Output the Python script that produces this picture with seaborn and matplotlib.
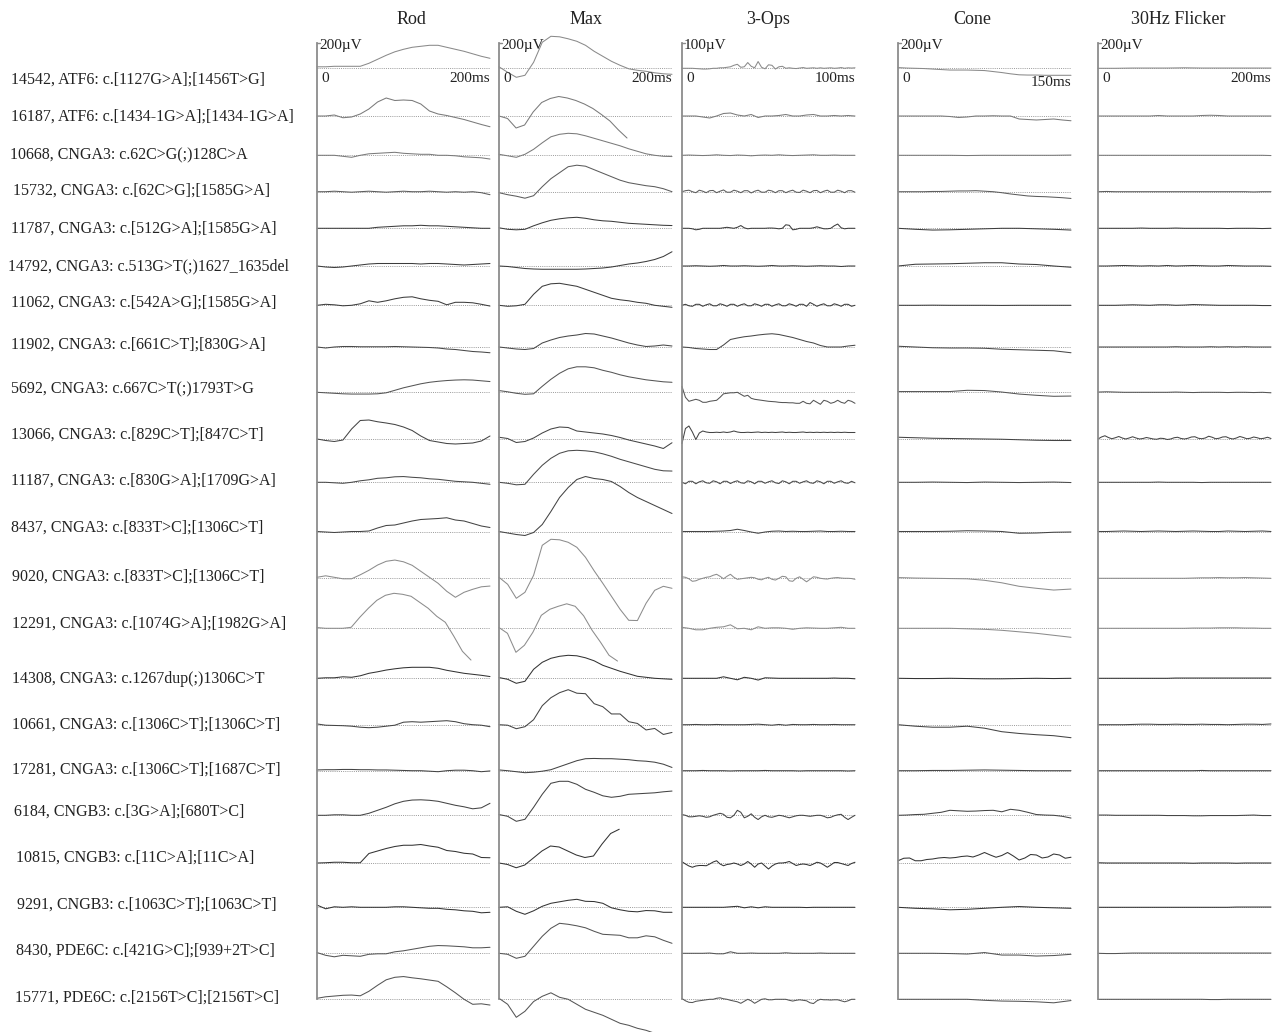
import matplotlib
matplotlib.use("Agg")
import matplotlib.pyplot as plt
import numpy as np
import pandas as pd
import seaborn as sns

# ---------------- data ----------------
patients = [
    "14542, ATF6: c.[1127G>A];[1456T>G]",
    "16187, ATF6: c.[1434-1G>A];[1434-1G>A]",
    "10668, CNGA3: c.62C>G(;)128C>A",
    "15732, CNGA3: c.[62C>G];[1585G>A]",
    "11787, CNGA3: c.[512G>A];[1585G>A]",
    "14792, CNGA3: c.513G>T(;)1627_1635del",
    "11062, CNGA3: c.[542A>G];[1585G>A]",
    "11902, CNGA3: c.[661C>T];[830G>A]",
    "5692, CNGA3: c.667C>T(;)1793T>G",
    "13066, CNGA3: c.[829C>T];[847C>T]",
    "11187, CNGA3: c.[830G>A];[1709G>A]",
    "8437, CNGA3: c.[833T>C];[1306C>T]",
    "9020, CNGA3: c.[833T>C];[1306C>T]",
    "12291, CNGA3: c.[1074G>A];[1982G>A]",
    "14308, CNGA3: c.1267dup(;)1306C>T",
    "10661, CNGA3: c.[1306C>T];[1306C>T]",
    "17281, CNGA3: c.[1306C>T];[1687C>T]",
    "6184, CNGB3: c.[3G>A];[680T>C]",
    "10815, CNGB3: c.[11C>A];[11C>A]",
    "9291, CNGB3: c.[1063C>T];[1063C>T]",
    "8430, PDE6C: c.[421G>C];[939+2T>C]",
    "15771, PDE6C: c.[2156T>C];[2156T>C]",
]
columns = ["Rod", "Max", "3-Ops", "Cone", "30Hz Flicker"]
sweep_ms = [200, 200, 100, 150, 200]
scale_uv = [200, 200, 100, 200, 200]
scale_labels = ["200\u00b5V", "200\u00b5V", "100\u00b5V", "200\u00b5V", "200\u00b5V"]
time_labels = ["200ms", "200ms", "100ms", "150ms", "200ms"]

# Rod responses (uV), sampled evenly over each trace's duration
rod_uv = [
    [12,12,16,16,16,16,40,72,104,132,152,168,176,184,184,168,152,136,116,96,80],
    [0,0,8,-14,-8,16,56,112,144,124,128,124,96,40,16,4,-12,-28,-48,-68,-86],
    [0,0,0,-8,-16,0,12,16,20,24,16,12,8,8,0,0,-4,-12,-16,-20,-30],
    [0,0,4,0,-4,0,4,0,-4,0,4,0,0,4,0,-4,0,-4,0,-8,-24],
    [0,0,0,0,0,0,0,8,12,16,20,20,24,20,20,16,12,8,4,0,0],
    [0,-8,-12,-8,0,8,16,20,20,20,20,20,16,20,20,16,12,8,12,16,20],
    [0,8,4,-4,0,12,36,24,36,52,64,68,52,40,32,4,24,24,20,8,-6],
    [0,-8,0,4,4,2,2,2,2,4,2,0,-2,-4,-8,-16,-20,-28,-36,-40,-46],
    [0,-4,-8,-12,-14,-14,-14,-12,-4,16,36,52,68,80,88,94,98,100,98,92,86],
    [0,-12,-20,-8,80,148,152,138,128,116,96,68,24,-12,-24,-36,-40,-36,-32,-16,24],
    [0,0,-4,-8,0,12,20,32,36,44,46,40,36,28,24,16,8,4,0,-8,-16],
    [0,-4,-8,-4,0,0,4,28,48,52,68,84,96,100,104,110,92,84,64,44,32],
    [8,20,8,-4,-4,28,64,106,136,146,132,104,56,8,-40,-104,-152,-112,-88,-68,-62],
    [6,0,0,0,8,88,160,224,264,280,272,256,208,160,96,48,-64,-184,-254],
    [0,4,4,12,8,20,40,52,66,76,84,88,88,88,80,64,52,40,32,24,14],
    [6,-4,-6,-8,-12,-20,-24,-20,-12,-4,20,24,20,24,28,32,24,8,0,-4,-16],
    [6,8,8,10,10,8,8,6,6,4,2,0,0,-4,-8,0,4,4,0,-8,-2],
    [0,0,4,4,0,0,16,40,64,92,112,122,124,120,112,96,80,68,52,60,96],
    [0,2,6,6,2,2,76,96,116,132,142,142,148,136,126,100,92,78,72,44,42],
    [18,-12,4,0,4,0,0,0,0,4,4,0,-4,-8,-8,-16,-20,-28,-32,-44,-40],
    [6,-16,-28,-16,-20,-24,-8,-4,-4,12,20,32,44,56,62,60,56,52,44,44,48],
    [8,20,26,32,34,28,64,112,156,176,182,172,164,154,144,100,52,0,-40,-36,-46],
]
rod_end_ms = [200]*13 + [178] + [200]*8

max_uv = [
    [12,-32,-72,-56,48,208,256,252,236,216,184,136,96,56,24,-4,-16,-24,-36,-44,-48],
    [0,-20,-96,-72,32,108,140,156,144,124,96,60,12,-40,-112,-176],
    [8,-4,-16,8,48,100,148,168,176,172,156,136,116,96,76,52,32,12,0,-8,-10],
    [-8,-24,-36,-52,-32,40,104,152,200,212,204,176,148,120,92,72,60,48,40,24,0],
    [4,-8,-12,-8,20,44,64,76,84,88,80,68,60,56,48,40,36,32,28,24,22],
    [0,-4,-12,-20,-24,-26,-26,-26,-26,-26,-24,-20,-16,-8,4,16,24,36,52,76,114],
    [0,-8,-4,8,88,152,172,176,164,152,128,104,80,56,44,36,24,16,0,-8,-16],
    [0,-8,-16,-20,-12,32,56,76,88,96,108,104,88,72,52,32,16,4,8,16,8],
    [14,4,-8,-16,-12,48,104,152,188,204,204,196,176,160,140,124,112,100,92,84,80],
    [14,4,-28,-20,8,48,80,96,92,64,56,48,40,28,12,-8,-24,-40,-56,-76,-30],
    [0,-8,-20,-16,64,136,192,232,252,256,252,244,228,208,184,164,144,124,104,92,90],
    [0,-12,-24,-32,-8,56,160,272,352,416,440,424,416,400,360,312,272,240,208,176,144],
    [8,-48,-160,-112,24,264,312,308,288,248,168,60,-40,-144,-248,-336,-338,-200,-96,-64,-80],
    [6,-40,-192,-136,-32,104,152,176,196,176,100,-16,-112,-216,-262],
    [6,-8,-40,-24,72,128,160,176,184,180,164,140,104,80,56,36,16,8,0,-4,-8],
    [0,-4,-32,-16,40,152,216,256,280,252,248,168,144,86,86,24,10,-42,-30,-78,-62],
    [6,0,-8,-16,-12,-4,8,32,56,80,96,98,96,96,92,88,80,76,68,52,26],
    [6,-8,-48,-32,64,168,256,272,272,248,208,184,156,144,152,168,172,176,180,188,194],
    [0,-12,-38,-16,40,96,136,128,96,64,44,56,152,236,270],
    [0,4,-32,-56,-28,8,32,44,56,64,48,46,32,-4,-20,-32,-36,-26,-28,-40,-40],
    [0,-8,-40,-24,56,136,200,240,232,220,204,176,152,148,144,124,124,140,132,104,80],
    [8,-40,-144,-96,-18,24,52,16,0,-40,-80,-104,-128,-160,-192,-208,-232,-248,-272],
]
max_end_ms = [200, 148] + [200]*10 + [200, 137] + [200]*4 + [139, 200, 200, 180]

ops_uv = [
    [0,0,0,0,-1,-2,-3,-3,-2,0,0,2,2,4,6,12,16,4,6,23,8,2,27,4,-2,14,12,-3,6,8,0,2,0,-1,1,3,0,1,2,0,2,0,1,2,0,1,3,0,2,1,2],
    [0,0,0,-4,-8,0,10,12,4,0,6,-6,0,0,2,6,0,0,4,6,0,0,2,0,2,0],
    [0,1,0,-1,0,2,0,-1,1,0,-2,0,1,0,2,0,-1,0,1,2,0,0,1,0,0,0],
    [0,4,6,0,-4,6,2,-4,4,5,-4,2,7,-2,-2,6,2,-4,4,4,-5,2,6,-2,-2,6,3,-4,4,4,-4,2,6,-2,-3,6,2,-4,4,5,-4,2,6,-2,-2,6,2,-4,4,4,-2],
    [0,0,0,-2,-6,-4,0,0,0,0,0,0,2,4,2,0,4,11,2,-2,0,0,0,0,0,1,1,0,-2,0,14,12,-6,-4,0,0,0,0,2,6,2,-2,-2,0,10,17,2,-2,0,0,0],
    [0,0,1,0,-1,0,2,0,0,1,0,-1,0,2,0,0,1,0,-1,0,1,0,0,-2,0,0],
    [0,4,-2,-4,4,4,-4,2,6,-2,-2,6,2,-4,4,4,-4,2,6,-2,-2,6,2,-4,4,4,-4,2,6,-2,-2,6,2,-4,4,4,-4,11,4,-4,2,6,-2,-2,6,2,-4,4,4,-4,0],
    [0,-2,-6,-8,-10,-10,8,30,36,41,44,48,51,53,50,44,38,30,22,16,6,0,0,0,4,7],
    [23,-20,-36,-32,-28,-32,-40,-40,-36,-34,-32,-20,-6,-4,-2,-2,0,-8,-16,-12,-24,-28,-30,-32,-34,-36,-37,-38,-40,-41,-41,-42,-42,-44,-44,-36,-44,-46,-32,-40,-48,-32,-36,-44,-40,-32,-40,-44,-32,-36,-44],
    [-18,42,52,28,-2,24,32,28,26,26,27,26,28,26,28,32,28,26,26,27,26,27,28,26,27,26,27,26,27,28,26,27,26,26,27,28,26,27,26,27,26,27,26,27,26,27,26,27,26,26,26],
    [0,-6,4,4,-6,2,6,-2,-4,6,2,-6,4,4,-5,2,6,-2,-4,6,2,-6,4,4,-4,2,6,-2,-5,6,2,-6,4,4,-4,2,6,-2,-4,6,2,-6,4,4,-4,2,6,-2,-4,4,-2],
    [0,0,0,0,0,1,2,4,9,4,-2,-7,-2,1,2,0,1,0,0,1,2,0,0,1,0,0],
    [6,4,-2,-12,-10,-4,0,4,6,12,16,8,-2,8,16,4,-4,-2,0,2,4,2,-4,-6,0,4,-4,-7,0,8,6,-10,-12,0,6,-4,-14,-4,6,4,0,-2,-3,0,2,3,1,0,0,-1,-4],
    [4,0,-6,-6,0,4,6,14,-2,0,-6,6,0,2,2,0,-4,0,2,1,0,0,2,4,0,0],
    [0,0,0,0,0,0,6,0,-6,4,0,-7,2,1,0,0,0,0,0,0,0,0,1,0,0,-2],
    [0,0,1,0,0,1,0,0,0,0,1,2,0,-2,1,-2,1,0,0,1,0,0,1,0,0,0],
    [0,0,0,1,0,0,0,-1,0,0,0,0,1,0,0,0,0,-1,0,0,0,0,0,0,-1,0],
    [3,0,-6,-6,-4,-2,-4,-8,-6,0,4,8,4,-8,-10,0,20,12,-10,-4,6,-8,-17,-6,0,-6,-8,-4,0,-2,-6,-10,-6,-2,0,0,-2,-4,-2,0,0,-4,-10,-8,-2,2,4,-8,-17,-8,0],
    [5,-4,-12,-17,-12,-10,-10,-11,-4,4,9,-4,-11,-6,-4,0,-4,-10,-4,6,-4,-17,-4,0,-12,-24,-12,-4,0,0,2,6,-2,-10,-6,-4,-6,-10,-4,3,0,-8,-17,-8,2,2,-2,-6,-10,-2,3],
    [0,0,0,0,0,0,0,2,4,-2,2,-2,2,0,0,0,0,0,-1,0,0,0,0,0,0,0],
    [0,0,0,0,1,-2,-2,6,0,0,1,0,0,0,0,2,0,0,0,0,1,0,0,0,0,0],
    [3,-6,-12,-13,-8,-6,-4,-2,0,0,4,6,2,0,-4,-7,-10,-16,-8,0,-6,-16,-8,0,2,-2,-2,0,0,0,0,-4,-7,-4,-2,-4,-6,-14,-17,-6,0,-2,-2,-3,-2,-2,-6,-10,-6,0,0],
]

cone_uv = [
    [6,2,0,-2,-6,-10,-14,-14,-14,-16,-18,-26,-34,-44,-52,-54,-54,-56,-56,-56,-56],
    [0,0,0,0,0,0,-4,-12,-8,0,0,2,0,0,-24,-28,-32,-28,-24,-32,-38],
    [0,0,0,0,-2,0,0,0,0,0,2],
    [0,0,0,0,2,2,4,6,6,8,4,0,-8,-18,-26,-34,-38,-40,-44,-48,-54],
    [0,-8,-14,-12,-8,-4,0,0,-4,-8,-14],
    [0,14,16,18,22,26,26,16,12,0,-10],
    [0,0,1,0,0,0,-1,0,0,0,0],
    [6,0,-6,-8,-8,-10,-18,-22,-26,-30,-46],
    [6,6,6,6,16,14,2,-14,-24,-32,-30],
    [14,10,6,4,2,0,-2,-6,-10,-12,-12],
    [0,0,2,0,-2,2,0,-2,0,2,-2],
    [0,0,0,2,6,4,0,-14,-12,-6,-4],
    [6,2,0,-2,-4,-16,-36,-64,-80,-94,-86],
    [0,0,0,0,-4,-8,-16,-28,-40,-56,-72],
    [0,-2,-2,0,-2,-4,-4,-2,0,-2,0],
    [0,-12,-20,-20,-12,-28,-56,-70,-80,-88,-104],
    [0,0,2,2,4,6,4,2,0,0,0],
    [0,2,6,8,16,24,40,36,32,34,38,40,28,48,40,24,6,2,0,-8,-22],
    [18,38,40,18,18,28,32,40,44,40,44,52,56,48,64,84,64,46,60,84,56,24,40,68,64,40,48,72,64,38,46],
    [0,-8,-12,-20,-16,-8,0,6,0,-4,-8],
    [0,0,0,-2,-6,6,-14,-14,-22,-18,-8],
    [0,0,0,0,0,-8,-14,-16,-20,-28,-10],
]

flicker_uv = [
    [0,0,2,2,2,4,2,2,2,2,2],
    [0,0,0,0,0,0,0,4,0,0,0,0,4,6,4,0,0,0,0,0,0],
    [0,0,0,0,0,0,0,0,0,0,0,0,0,0,0,0,0,0,0,0,-2],
    [0,2,0,0,0,0,0,0,0,0,0,0,0,0,0,0,0,0,-2,0,0],
    [0,0,0,0,0,2,0,0,0,2,0,0,0,0,0,-2,0,0,0,-2,0],
    [0,0,2,4,2,0,2,0,4,0,2,4,2,0,0,4,2,0,0,0,-2],
    [0,0,0,2,4,2,0,4,4,0,2,6,4,2,0,0,0,0,0,-2,-2],
    [0,0,0,0,0,0,0,0,0,2,0,0,0,2,0,2,0,2,0,0,0],
    [2,4,2,0,0,0,0,0,0,2,0,-2,0,0,0,-2,0,0,-2,0,-4],
    [0,16,26,12,2,10,20,8,0,8,18,8,0,4,12,6,0,-2,6,4,-4,0,10,14,4,0,6,16,18,6,2,8,22,14,2,6,16,18,6,0,8,20,12,2,6,16,10,2,6,14,4],
    [0,0,0,0,0,0,0,2,0,0,0,0,-2,0,0,0,0,0,0,0,0],
    [0,0,2,4,2,0,2,4,2,0,2,4,2,0,0,4,2,0,2,4,0],
    [0,0,0,0,0,0,0,0,0,0,0,2,4,4,6,4,4,6,4,2,0],
    [0,0,0,0,0,0,0,0,0,0,0,2,2,2,4,4,4,2,2,0,0],
    [0,0,0,0,0,0,0,0,0,2,2,2,2,2,2,2,2,2,2,2,2],
    [0,0,0,0,2,4,4,2,2,4,2,2,4,2,2,0,2,4,4,2,6],
    [0,0,0,0,0,0,0,0,0,0,0,0,2,0,0,0,0,0,0,0,0],
    [2,2,0,0,0,0,0,0,-2,-2,-2,-4,-4,-2,-2,-2,-2,0,2,-2,-2],
    [2,0,0,0,0,0,0,0,0,0,0,-2,0,0,0,0,-2,0,0,0,0],
    [0,0,0,0,0,0,0,0,0,0,0,0,0,0,0,0,2,2,2,2,2],
    [0,-2,-2,0,2,2,2,2,2,2,2,2,2,2,2,2,2,2,2,2,2],
    [0,0,0,0,0,0,0,0,0,0,0,0,0,-2,-2,0,0,0,0,0,0],
]

# ---------------- layout / style ----------------
W, H = 1280, 1032
col_left_px = [317, 499, 682, 898, 1098]
col_w_px = 173
title_x_px = [411, 586, 768, 972, 1178]
baseline_px = [68.3, 116, 155.3, 191.7, 228.3, 266, 305.3, 347, 392.3, 439,
               482.3, 531.5, 578.3, 628.3, 678.3, 724.7, 770.7, 815.3, 863,
               907.3, 953.3, 999.3]
label_x_px = [11, 11, 10, 13, 11, 8, 11, 11, 11, 11, 11, 11, 12, 12, 12, 12,
              12, 14, 16, 17, 16, 15]
label_y_px = [80, 117, 155, 191, 229, 266, 303, 345, 389, 435, 481, 528, 577,
              624, 679, 725, 770, 812, 858, 905, 951, 998]
bar_px = 25  # length of the calibration bar in pixels
row_gray = ['#8a8a8a', '#7a7a7a', '#7a7a7a', '#5c5c5c', '#3c3c3c', '#3c3c3c',
            '#3c3c3c', '#484848', '#555555', '#444444', '#4a4a4a', '#444444',
            '#8c8c8c', '#8c8c8c', '#333333', '#444444', '#444444', '#444444',
            '#333333', '#333333', '#555555', '#555555']

sns.set_theme(style="white")
plt.rcParams['font.family'] = ['Liberation Serif', 'DejaVu Serif']

fig = plt.figure(figsize=(W / 100, H / 100), dpi=100)
fig.patch.set_facecolor('white')

all_traces = [rod_uv, max_uv, ops_uv, cone_uv, flicker_uv]
all_ends = [rod_end_ms, max_end_ms, None, None, None]
row_keys = [f"r{i:02d}" for i in range(len(patients))]
palette = dict(zip(row_keys, row_gray))

for c, name in enumerate(columns):
    ax = fig.add_axes([col_left_px[c] / W, 0, col_w_px / W, 1])
    ax.set_facecolor('none')
    frames = []
    for r, vals in enumerate(all_traces[c]):
        end = all_ends[c][r] if all_ends[c] is not None else sweep_ms[c]
        t = np.linspace(0, end, len(vals))
        y = baseline_px[r] - np.asarray(vals, dtype=float) * bar_px / scale_uv[c]
        frames.append(pd.DataFrame({'t': t, 'y': y, 'row': row_keys[r]}))
    df = pd.concat(frames, ignore_index=True)

    ax.hlines(baseline_px, 0, sweep_ms[c], colors='#9a9a9a',
              linestyles=(0, (1, 1.2)), linewidth=0.7)
    sns.lineplot(data=df, x='t', y='y', hue='row', palette=palette,
                 estimator=None, sort=False, legend=False, linewidth=0.75,
                 ax=ax, clip_on=False)

    ax.set_xlim(0, sweep_ms[c])
    ax.set_ylim(H, 0)
    ax.set_xlabel('')
    ax.set_ylabel('')
    ax.set_xticks([])
    ax.set_yticks([])
    for s in ['top', 'right', 'bottom']:
        ax.spines[s].set_visible(False)
    top_px = baseline_px[0] - bar_px
    ax.spines['left'].set_bounds(baseline_px[-1], top_px)
    ax.spines['left'].set_color('#8c8c8c')
    ax.spines['left'].set_linewidth(1.3)
    ax.plot([0, sweep_ms[c] * 0.018], [top_px, top_px], color='#8c8c8c',
            lw=1.0, clip_on=False)

    # column title and calibration texts
    fig.text(title_x_px[c] / W, 1 - 20 / H, name, ha='center', va='center',
             fontsize=13, color='#222222')
    fig.text((col_left_px[c] + 2) / W, 1 - 46 / H, scale_labels[c],
             ha='left', va='center', fontsize=11, color='#222222')
    fig.text((col_left_px[c] + 4) / W, 1 - 79 / H, '0', ha='left',
             va='center', fontsize=11, color='#222222')
    ty = 82 if c == 3 else 79
    fig.text((col_left_px[c] + col_w_px) / W, 1 - ty / H, time_labels[c],
             ha='right', va='center', fontsize=11, color='#222222')

for r, lab in enumerate(patients):
    fig.text(label_x_px[r] / W, 1 - label_y_px[r] / H, lab, ha='left',
             va='center', fontsize=11.5, color='#222222')

fig.savefig('out.png', dpi=100, facecolor='white')
